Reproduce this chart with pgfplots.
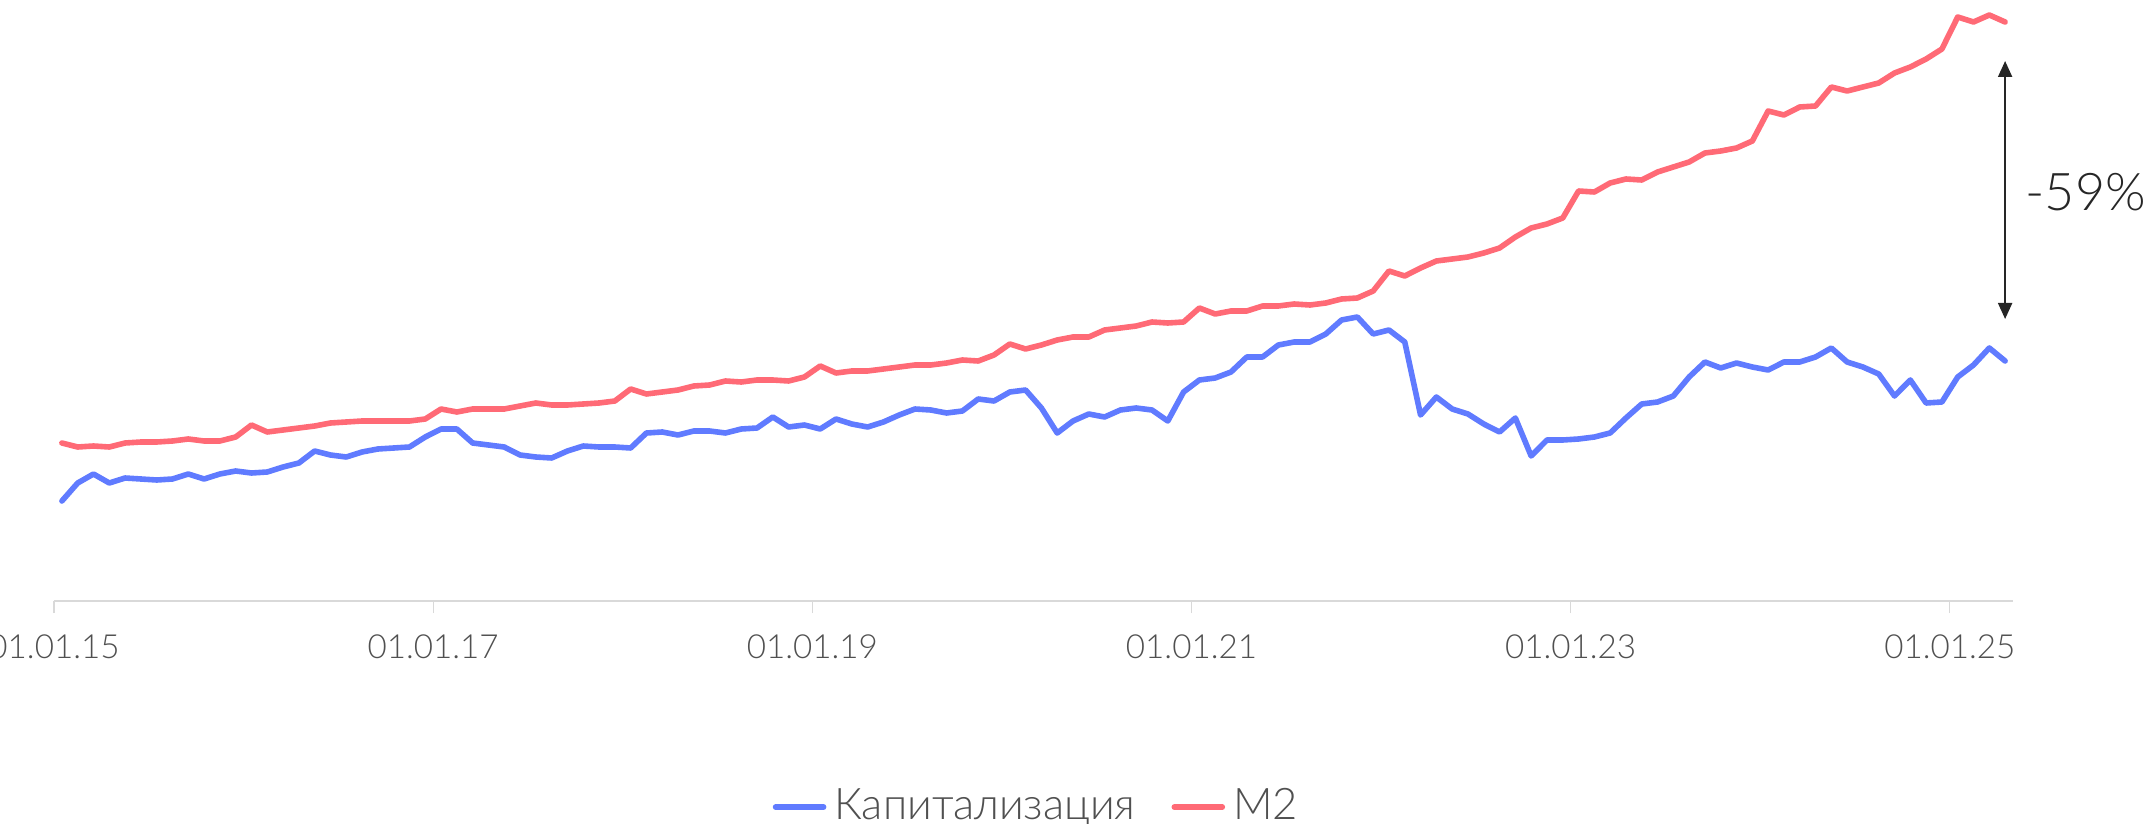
\documentclass[border=0pt]{standalone}
\usepackage{fontspec}
\IfFontExistsTF{Lato Light}{\setmainfont{Lato Light}}{\setmainfont{Lato}}
\usepackage{pgfplots}
\usepackage{pgfplotstable}
\pgfplotsset{compat=1.18}
\usetikzlibrary{arrows.meta}

\definecolor{capblue}{RGB}{96,123,255}
\definecolor{mtwored}{RGB}{255,106,118}
\definecolor{txtgray}{RGB}{80,80,80}
\definecolor{axgray}{RGB}{217,217,217}

% i = month index from Jan 2015; values in chart units
\pgfplotstableread{
i cap m2
0 100 158
1 118 154
2 127 155
3 118 154
4 123 158
5 122 159
6 121 159
7 122 160
8 127 162
9 122 160
10 127 160
11 130 164
12 128 176
13 129 169
14 134 171
15 138 173
16 150 175
17 146 178
18 144 179
19 149 180
20 152 180
21 153 180
22 154 180
23 164 182
24 172 192
25 172 189
26 158 192
27 156 192
28 154 192
29 146 195
30 144 198
31 143 196
32 150 196
33 155 197
34 154 198
35 154 200
36 153 212
37 168 207
38 169 209
39 166 211
40 170 215
41 170 216
42 168 220
43 172 219
44 173 221
45 184 221
46 174 220
47 176 224
48 172 235
49 182 228
50 177 230
51 174 230
52 179 232
53 186 234
54 192 236
55 191 236
56 188 238
57 190 241
58 202 240
59 200 246
60 209 257
61 211 252
62 193 256
63 168 261
64 180 264
65 187 264
66 184 271
67 191 273
68 193 275
69 191 279
70 180 278
71 209 279
72 221 293
73 223 287
74 229 290
75 244 290
76 244 295
77 256 295
78 259 297
79 259 296
80 267 298
81 281 302
82 284 303
83 267 310
84 271 330
85 259 325
86 186 333
87 204 340
88 192 342
89 187 344
90 177 348
91 169 353
92 183 364
93 145 373
94 161 377
95 161 383
96 162 410
97 164 409
98 168 418
99 183 422
100 197 421
101 199 429
102 205 434
103 224 439
104 239 448
105 233 450
106 238 453
107 234 460
108 231 490
109 239 486
110 239 494
111 244 495
112 253 514
113 239 510
114 234 514
115 227 518
116 205 528
117 221 534
118 198 542
119 199 552
120 224 584
121 236 579
122 253 586
123 240 579
}\data

\begin{document}
\begin{tikzpicture}
\begin{axis}[
  name=ax,
  scale only axis,
  width=489.75pt, height=150.25pt,
  xmin=-0.5, xmax=123.5,
  ymin=0, ymax=601,
  clip=false,
  axis x line*=bottom,
  axis y line=none,
  x axis line style={axgray, line width=0.35pt},
  xtick={-0.5,23.5,47.5,71.5,95.5,119.5},
  xticklabels={01.01.15,01.01.17,01.01.19,01.01.21,01.01.23,01.01.25},
  tick align=outside,
  major tick length=3pt,
  xtick style={axgray, line width=0.3pt},
  xticklabel style={font=\fontsize{8.3}{10}\selectfont, text=txtgray, yshift=-2pt},
  legend style={at={(0.503,-0.343)}, anchor=center, draw=none, fill=none,
    legend columns=2, font=\fontsize{10.9}{12}\selectfont, text=txtgray,
    /tikz/every even column/.append style={column sep=7pt}},
  legend image code/.code={\draw[#1] (0pt,0pt) -- (12pt,0pt);},
  every axis plot/.append style={line width=1.4pt, line join=round, line cap=round},
]
\addplot[capblue] table[x=i, y=cap] {\data};
\addlegendentry{Капитализация}
\addplot[mtwored] table[x=i, y=m2] {\data};
\addlegendentry{M2}

\draw[{Triangle[length=4pt,width=3.5pt]}-{Triangle[length=4pt,width=3.5pt]},
  line width=0.5pt, black!85] (axis cs:123,540) -- (axis cs:123,282);
\node[anchor=west, font=\fontsize{13}{15}\selectfont, text=black!85, inner sep=0pt]
  at (axis cs:124.25,409) {-59\%};
\end{axis}
\pgfresetboundingbox
\path[use as bounding box] ([shift={(-13.5pt,-55.75pt)}]ax.south west)
  rectangle ([shift={(524.25pt,150.25pt)}]ax.south west);
\end{tikzpicture}
\end{document}
